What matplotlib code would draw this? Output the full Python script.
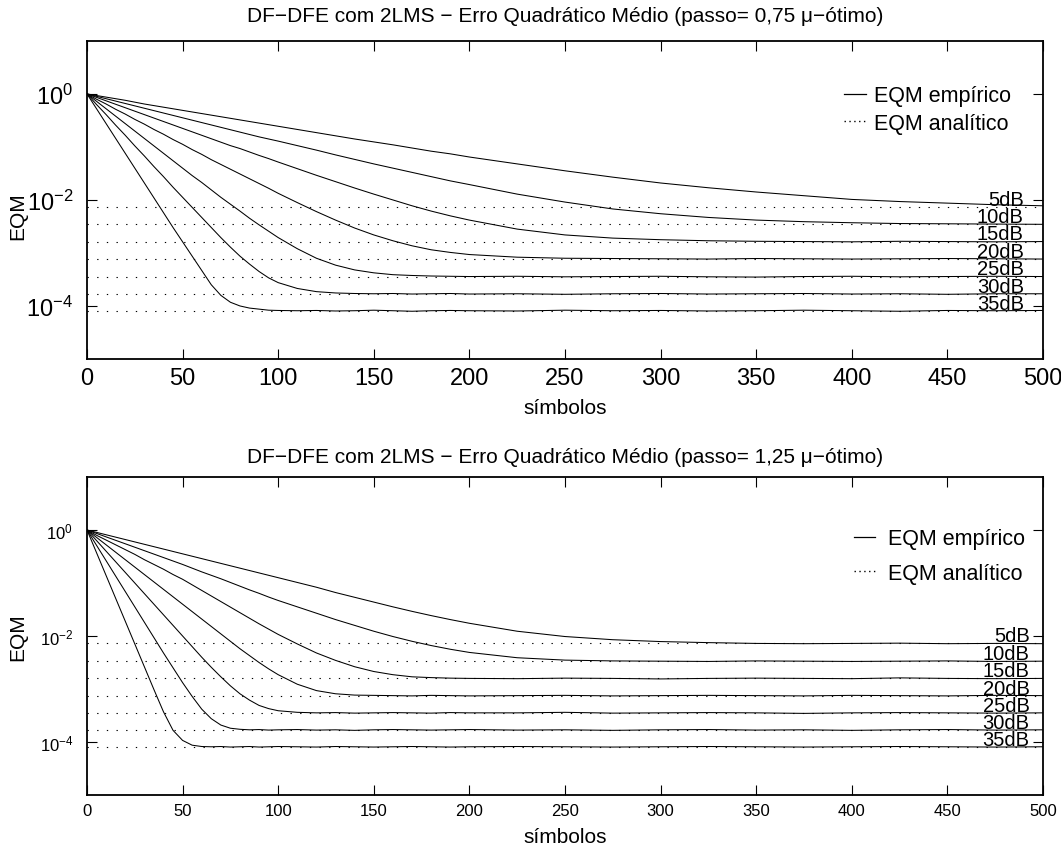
import numpy as np
import matplotlib
matplotlib.use("Agg")
import matplotlib.pyplot as plt
from matplotlib.lines import Line2D
from matplotlib.ticker import NullLocator

plt.rcParams['font.family'] = ['Liberation Sans', 'DejaVu Sans']
plt.rcParams['mathtext.fontset'] = 'custom'
plt.rcParams['mathtext.rm'] = 'Liberation Sans'
plt.rcParams['mathtext.it'] = 'Liberation Sans:italic'
plt.rcParams['mathtext.bf'] = 'Liberation Sans:bold'

# eixo x (simbolos) onde as curvas foram lidas
simbolos = [0, 5, 10, 15, 20, 25, 30, 35, 40, 45, 50, 55, 60, 65, 70, 75, 80, 85, 90, 95, 100,
            110, 120, 130, 140, 150, 160, 170, 180, 190, 200,
            225, 250, 275, 300, 325, 350, 375, 400, 425, 450, 475, 500]

snr_labels = ['5dB', '10dB', '15dB', '20dB', '25dB', '30dB', '35dB']

# log10(EQM analitico) - nivel das linhas pontilhadas
log_ana_075 = [-2.14, -2.46, -2.785, -3.11, -3.445, -3.77, -4.09]
log_ana_125 = [-2.14, -2.475, -2.80, -3.125, -3.45, -3.77, -4.09]

# log10(EQM empirico), passo = 0,75 mu-otimo
log_emp_075 = [
    [0, -0.03, -0.06, -0.09, -0.12, -0.155, -0.19, -0.22, -0.25, -0.28, -0.31, -0.34, -0.37, -0.40, -0.43, -0.46, -0.49, -0.52, -0.55, -0.58, -0.61,
     -0.67, -0.73, -0.79, -0.85, -0.905, -0.96, -1.02, -1.08, -1.13, -1.19,
     -1.32, -1.45, -1.57, -1.68, -1.77, -1.85, -1.92, -1.99, -2.03, -2.06, -2.09, -2.11],
    [0, -0.045, -0.09, -0.135, -0.18, -0.225, -0.27, -0.315, -0.36, -0.405, -0.45, -0.495, -0.54, -0.585, -0.63, -0.675, -0.72, -0.765, -0.81, -0.85, -0.89,
     -0.975, -1.06, -1.15, -1.235, -1.32, -1.40, -1.48, -1.56, -1.64, -1.71,
     -1.89, -2.04, -2.17, -2.26, -2.33, -2.38, -2.41, -2.43, -2.445, -2.45, -2.455, -2.46],
    [0, -0.065, -0.13, -0.195, -0.26, -0.325, -0.39, -0.455, -0.52, -0.585, -0.65, -0.715, -0.78, -0.845, -0.91, -0.975, -1.03, -1.095, -1.16, -1.22, -1.285,
     -1.41, -1.535, -1.655, -1.775, -1.89, -2.00, -2.11, -2.21, -2.30, -2.38,
     -2.55, -2.66, -2.72, -2.75, -2.77, -2.78, -2.785, -2.79, -2.78, -2.785, -2.79, -2.785],
    [0, -0.10, -0.19, -0.29, -0.38, -0.48, -0.57, -0.67, -0.76, -0.86, -0.95, -1.05, -1.14, -1.24, -1.33, -1.42, -1.51, -1.60, -1.69, -1.78, -1.875,
     -2.05, -2.22, -2.38, -2.53, -2.66, -2.77, -2.865, -2.94, -2.99, -3.03,
     -3.08, -3.10, -3.105, -3.11, -3.115, -3.105, -3.11, -3.115, -3.11, -3.105, -3.11, -3.115],
    [0, -0.14, -0.28, -0.42, -0.56, -0.70, -0.84, -0.98, -1.12, -1.26, -1.40, -1.54, -1.67, -1.81, -1.95, -2.08, -2.21, -2.345, -2.47, -2.59, -2.71,
     -2.92, -3.10, -3.23, -3.32, -3.375, -3.41, -3.425, -3.435, -3.44, -3.445,
     -3.44, -3.45, -3.445, -3.44, -3.45, -3.455, -3.445, -3.44, -3.45, -3.445, -3.44, -3.445],
    [0, -0.20, -0.39, -0.59, -0.78, -0.98, -1.17, -1.37, -1.56, -1.76, -1.95, -2.14, -2.33, -2.52, -2.71, -2.89, -3.06, -3.21, -3.35, -3.47, -3.56,
     -3.67, -3.73, -3.755, -3.765, -3.77, -3.765, -3.775, -3.77, -3.765, -3.775,
     -3.77, -3.78, -3.77, -3.765, -3.775, -3.77, -3.765, -3.775, -3.77, -3.78, -3.77, -3.77],
    [0, -0.28, -0.56, -0.84, -1.12, -1.40, -1.68, -1.96, -2.24, -2.52, -2.79, -3.06, -3.33, -3.60, -3.80, -3.93, -4.00, -4.04, -4.06, -4.08, -4.085,
     -4.09, -4.085, -4.095, -4.09, -4.08, -4.09, -4.10, -4.09, -4.085, -4.09,
     -4.095, -4.08, -4.09, -4.085, -4.095, -4.09, -4.08, -4.09, -4.10, -4.085, -4.09, -4.085],
]

# log10(EQM empirico), passo = 1,25 mu-otimo
log_emp_125 = [
    [0, -0.045, -0.09, -0.135, -0.18, -0.225, -0.27, -0.315, -0.36, -0.405, -0.45, -0.495, -0.54, -0.585, -0.63, -0.675, -0.72, -0.765, -0.81, -0.855, -0.90,
     -0.99, -1.08, -1.18, -1.27, -1.36, -1.45, -1.535, -1.615, -1.69, -1.76,
     -1.91, -2.01, -2.07, -2.105, -2.125, -2.14, -2.145, -2.14, -2.135, -2.145, -2.14, -2.145],
    [0, -0.065, -0.13, -0.195, -0.26, -0.325, -0.39, -0.455, -0.52, -0.585, -0.65, -0.72, -0.79, -0.855, -0.92, -0.99, -1.06, -1.13, -1.195, -1.265, -1.33,
     -1.45, -1.57, -1.69, -1.80, -1.91, -2.01, -2.10, -2.18, -2.25, -2.31,
     -2.41, -2.455, -2.47, -2.475, -2.48, -2.47, -2.475, -2.48, -2.475, -2.47, -2.48, -2.475],
    [0, -0.10, -0.19, -0.28, -0.37, -0.46, -0.56, -0.65, -0.74, -0.84, -0.93, -1.035, -1.14, -1.245, -1.35, -1.455, -1.56, -1.665, -1.77, -1.87, -1.97,
     -2.15, -2.32, -2.46, -2.58, -2.67, -2.73, -2.77, -2.785, -2.795, -2.80,
     -2.805, -2.795, -2.80, -2.81, -2.80, -2.795, -2.80, -2.805, -2.79, -2.80, -2.805, -2.80],
    [0, -0.14, -0.28, -0.42, -0.56, -0.70, -0.84, -0.98, -1.12, -1.26, -1.40, -1.54, -1.68, -1.82, -1.96, -2.10, -2.24, -2.37, -2.50, -2.62, -2.73,
     -2.91, -3.03, -3.09, -3.115, -3.12, -3.125, -3.13, -3.12, -3.125, -3.13,
     -3.125, -3.12, -3.13, -3.125, -3.12, -3.125, -3.13, -3.12, -3.125, -3.13, -3.12, -3.125],
    [0, -0.20, -0.40, -0.60, -0.80, -1.00, -1.20, -1.40, -1.60, -1.80, -2.00, -2.20, -2.40, -2.59, -2.77, -2.94, -3.09, -3.21, -3.31, -3.37, -3.41,
     -3.44, -3.45, -3.445, -3.455, -3.45, -3.445, -3.45, -3.455, -3.445, -3.45,
     -3.45, -3.44, -3.455, -3.45, -3.445, -3.45, -3.46, -3.45, -3.445, -3.45, -3.455, -3.45],
    [0, -0.29, -0.58, -0.87, -1.16, -1.45, -1.74, -2.03, -2.32, -2.60, -2.88, -3.14, -3.38, -3.56, -3.68, -3.74, -3.76, -3.77, -3.765, -3.775, -3.77,
     -3.765, -3.775, -3.77, -3.78, -3.77, -3.765, -3.77, -3.775, -3.77, -3.765,
     -3.775, -3.77, -3.78, -3.77, -3.765, -3.775, -3.77, -3.78, -3.77, -3.765, -3.775, -3.77],
    [0, -0.43, -0.86, -1.29, -1.72, -2.15, -2.58, -3.01, -3.43, -3.78, -3.97, -4.06, -4.085, -4.09, -4.085, -4.095, -4.09, -4.085, -4.095, -4.09, -4.085,
     -4.09, -4.095, -4.085, -4.09, -4.095, -4.09, -4.085, -4.09, -4.095, -4.09,
     -4.085, -4.09, -4.095, -4.09, -4.085, -4.09, -4.095, -4.09, -4.085, -4.09, -4.095, -4.09],
]

x_ticks = [0, 50, 100, 150, 200, 250, 300, 350, 400, 450, 500]
y_ticks = [1e0, 1e-2, 1e-4]
y_ticklabels = [r'$10^{0}$', r'$10^{-2}$', r'$10^{-4}$']


def draw_panel(ax, passo, log_emp, log_ana, tick_fs, label_x, legend_xy, legend_gap,
               ylabel_y, xlabel_y, title_pad):
    x = np.array(simbolos)
    for lv in log_ana:
        ax.plot([0, 500], [10 ** lv, 10 ** lv], color='k', lw=0.8,
                ls=(0, (1.2, 7.5)), zorder=1)
    for curve in log_emp:
        ax.plot(x, 10 ** np.array(curve), color='k', lw=0.75, zorder=2)
    for lab, lv in zip(snr_labels, log_ana):
        ax.annotate(lab, (label_x, 10 ** lv), xytext=(0, 1.5), textcoords='offset points',
                    ha='right', va='baseline', fontsize=14.5)

    ax.set_yscale('log')
    ax.set_xlim(0, 500)
    ax.set_ylim(1e-5, 1e1)
    ax.set_xticks(x_ticks)
    ax.set_yticks(y_ticks)
    ax.set_yticklabels(y_ticklabels)
    ax.yaxis.set_minor_locator(NullLocator())
    ax.tick_params(which='both', direction='in', top=True, right=True,
                   length=7, width=0.8, labelsize=tick_fs)
    ax.tick_params(axis='x', pad=6)
    ax.tick_params(axis='y', pad=10)
    for sp in ax.spines.values():
        sp.set_linewidth(1.3)

    ax.set_title(f'DF\u2212DFE com 2LMS \u2212 Erro Quadrático Médio (passo= {passo} \u03bc\u2212ótimo)',
                 fontsize=15, pad=title_pad)
    ax.set_ylabel('EQM', fontsize=15)
    ax.yaxis.set_label_coords(-0.062, ylabel_y)
    ax.set_xlabel('símbolos', fontsize=15, va='center')
    ax.xaxis.set_label_coords(0.5, xlabel_y)

    handles = [Line2D([], [], color='k', lw=0.9),
               Line2D([], [], color='k', lw=1.0, ls=(0, (1, 2.5)))]
    ax.legend(handles, ['EQM empírico', 'EQM analítico'], loc='center left',
              bbox_to_anchor=legend_xy, frameon=False, fontsize=15.5, borderpad=0,
              borderaxespad=0, handlelength=1.0, handletextpad=legend_gap[0],
              labelspacing=legend_gap[1])


fig = plt.figure(figsize=(10.61, 8.54), dpi=100)
ax1 = fig.add_axes([0.082, 0.5785, 0.901, 0.3724])
ax2 = fig.add_axes([0.082, 0.0679, 0.901, 0.3724])

draw_panel(ax1, '0,75', log_emp_075, log_ana_075, 17, 490, (0.792, 0.784), (0.4, 0.3),
           0.453, -0.154, 14)
draw_panel(ax2, '1,25', log_emp_125, log_ana_125, 12, 493, (0.802, 0.752), (0.6, 0.63),
           0.5, -0.132, 11)

fig.savefig('out.png', dpi=100)
